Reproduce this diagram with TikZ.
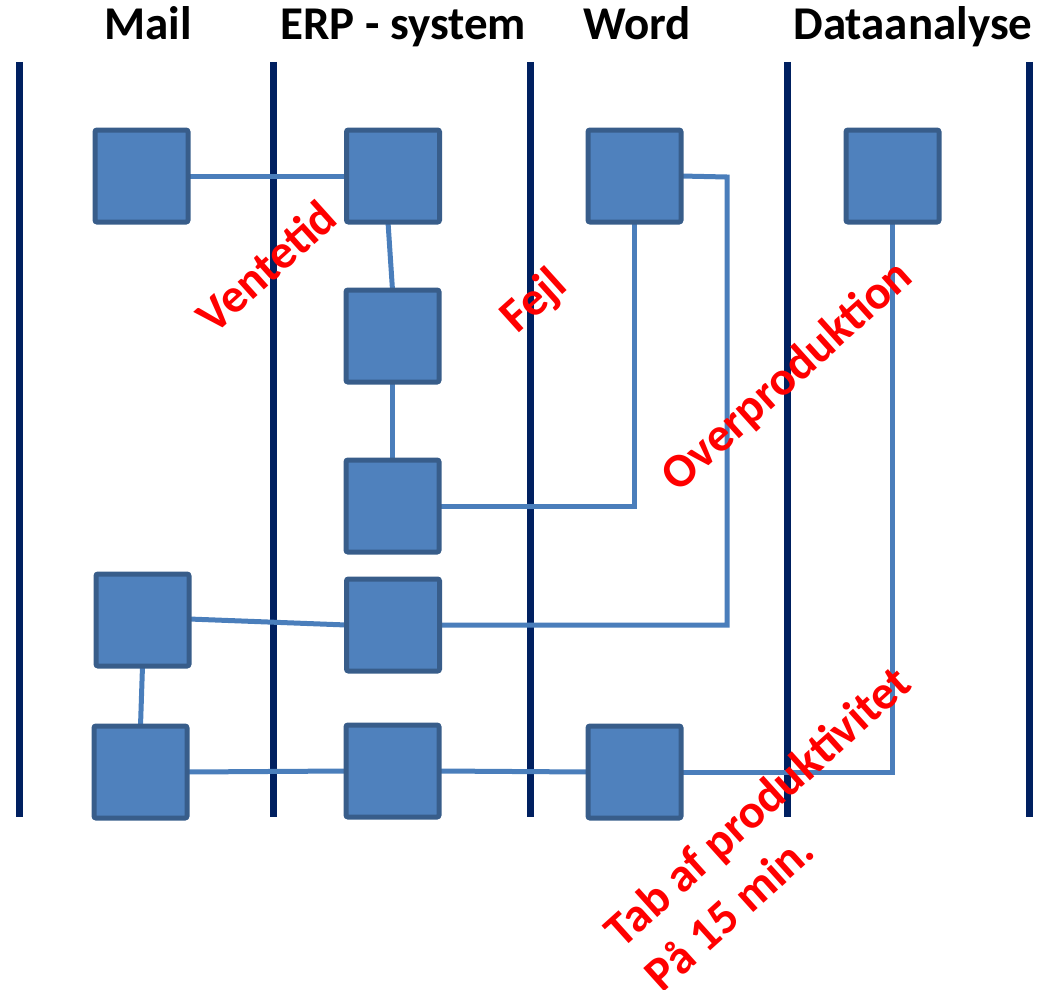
\documentclass[tikz,border=0pt]{standalone}
\usepackage{fontspec}
\setmainfont{Carlito}
\definecolor{lane}{HTML}{002060}
\definecolor{boxfill}{HTML}{4F81BD}
\definecolor{boxline}{HTML}{385D8A}
\definecolor{conn}{HTML}{4A7EBB}
\definecolor{lbl}{HTML}{FF0000}
\tikzset{
  lanebar/.style={draw=lane,line width=7pt},
  stepbox/.style={draw=boxline,fill=boxfill,line width=5pt,rounded corners=2pt,minimum width=88pt,minimum height=87pt,inner sep=0pt},
  link/.style={draw=conn,line width=5pt},
  head/.style={font=\fontsize{47}{54}\selectfont\bfseries,anchor=base,inner sep=0pt},
  waste/.style={text=lbl,font=\fontsize{48}{60}\selectfont\bfseries,rotate=42,inner sep=0pt}
}
\begin{document}
\begin{tikzpicture}[x=1pt,y=-1pt]
\useasboundingbox (0,0) rectangle (1041,990);
% lanes
\foreach \x [count=\i] in {19,273,530,787,1029}{
  \coordinate (lt\i) at (\x,62);
  \coordinate (lb\i) at (\x,817);
  \draw[lanebar] (lt\i) -- (lb\i);
}
% headers
\node[head] (hmail) at (148,40) {Mail};
\node[head] (herp) at (403,40) {ERP - system};
\node[head] (hword) at (637,40) {Word};
\node[head] (hdata) at (913,40) {Dataanalyse};
% boxes
\node[stepbox] (m1) at (141.5,176) {};
\node[stepbox] (e1) at (393,176) {};
\node[stepbox] (w1) at (634.5,176) {};
\node[stepbox] (d1) at (892.5,176) {};
\node[stepbox] (e2) at (392.5,336) {};
\node[stepbox] (e3) at (392.5,506) {};
\node[stepbox] (m2) at (142.5,620) {};
\node[stepbox] (e4) at (393,625) {};
\node[stepbox] (m3) at (140.5,772) {};
\node[stepbox] (e5) at (392.5,771) {};
\node[stepbox] (w5) at (634.5,772) {};
% connectors
\coordinate (k1) at (727,177);
\draw[link] (m1.east) -- (e1.west);
\draw[link] ([xshift=-5pt]e1.south) -- (e2.north);
\draw[link] (e2.south) -- (e3.north);
\draw[link] (e3.east) -| (w1.south);
\draw[link] (w1.east) -- (k1) |- (e4.east);
\draw[link] ([yshift=1pt]m2.east) -- (e4.west);
\draw[link] (m2.south) -- (m3.north);
\draw[link] (m3.east) -- (e5.west);
\draw[link] (e5.east) -- (w5.west);
\draw[link] (w5.east) -| (d1.south);
% redraw boxes on top of connector ends
\foreach \b in {m1,e1,w1,d1,e2,e3,m2,e4,m3,e5,w5}{
  \draw[draw=boxline,fill=boxfill,line width=5pt,rounded corners=2pt] (\b.south west) rectangle (\b.north east);
}
% waste labels
\node[waste] (vent) at (266,266) {Ventetid};
\node[waste] (fejl) at (535,302) {Fejl};
\node[waste] (over) at (788,377) {Overproduktion};
\node[waste,align=left] (tab) at (777,828) {Tab af produktivitet\\På 15 min.};
\end{tikzpicture}
\end{document}
